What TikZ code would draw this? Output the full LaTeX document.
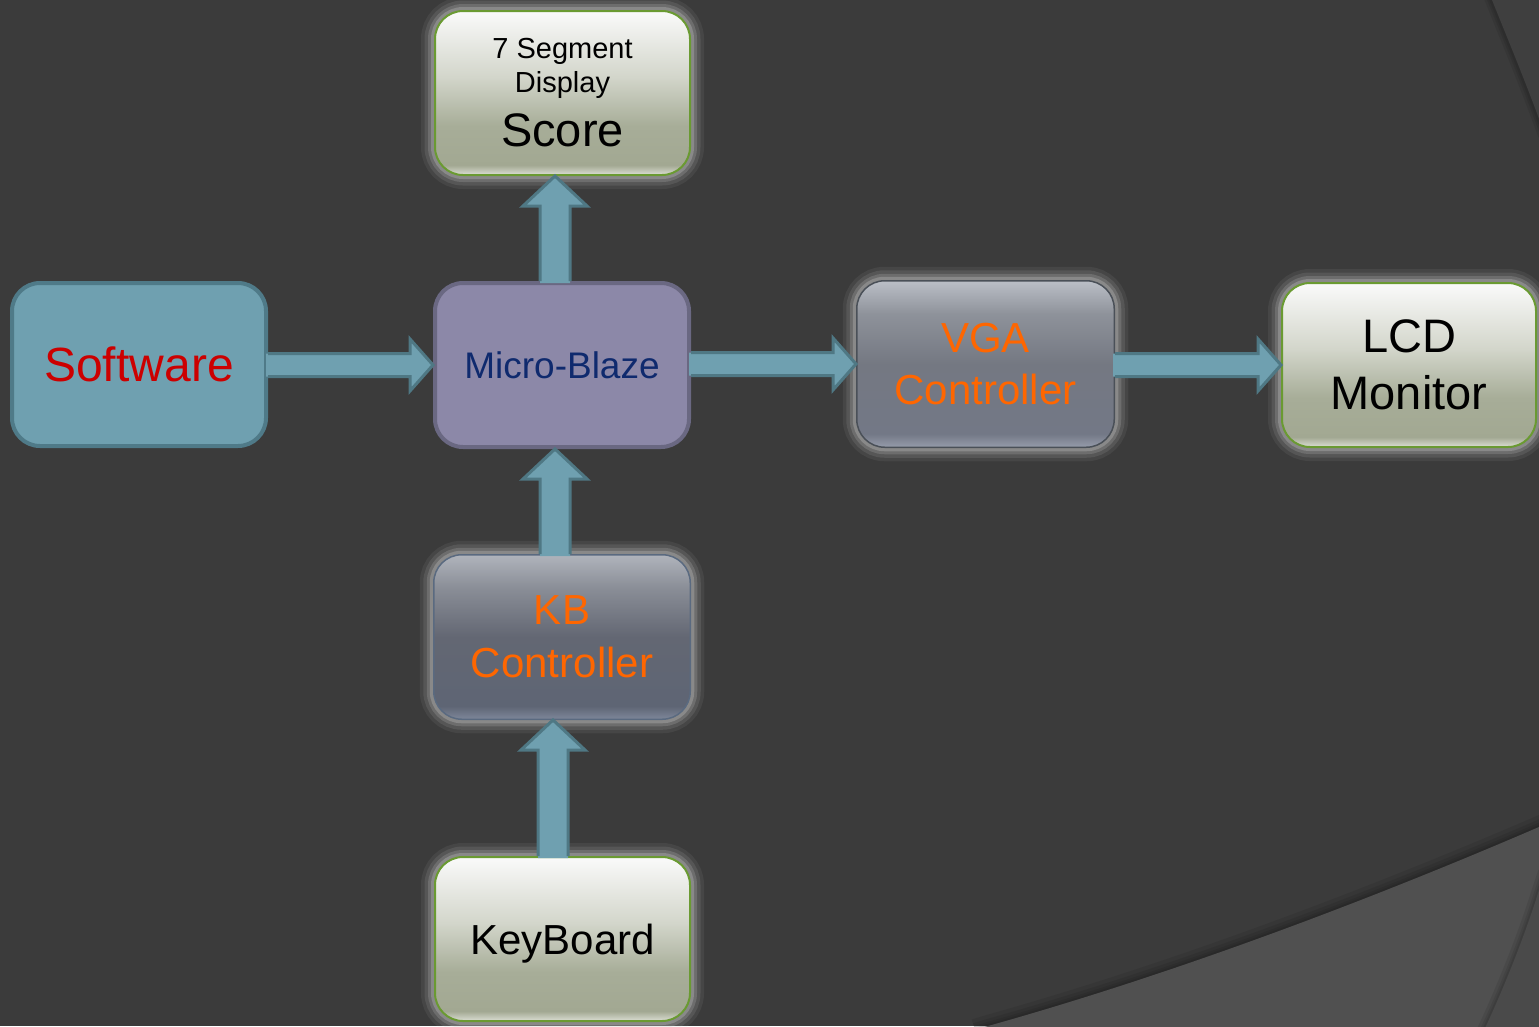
\documentclass[tikz,border=0pt]{standalone}
\usepackage{fontspec}
\setmainfont{Liberation Sans}
\usetikzlibrary{calc}
\definecolor{bgdark}{HTML}{3B3B3B}
\definecolor{bgtr}{HTML}{3F3F3F}
\definecolor{bglight}{HTML}{505050}
\definecolor{bgright}{HTML}{4A4A4A}
\definecolor{swfill}{HTML}{6FA0B0}
\definecolor{swedge}{HTML}{4F7A88}
\definecolor{mbfill}{HTML}{8C88A8}
\definecolor{mbedge}{HTML}{6A6882}
\definecolor{mbtext}{HTML}{0F2A6E}
\definecolor{arrfill}{HTML}{6FA0B0}
\definecolor{arredge}{HTML}{4F7884}
\definecolor{greenedge}{HTML}{6A9A32}
\definecolor{vgaedge}{HTML}{4A5058}
\definecolor{kbedge}{HTML}{5A6A80}
\definecolor{orangetext}{HTML}{FF6600}
\definecolor{redtext}{HTML}{CC0000}
\definecolor{glowc}{HTML}{CACACA}
% green box shading
\definecolor{gA}{HTML}{DCDFD4}
\definecolor{gB}{HTML}{A2A892}
\definecolor{gC}{HTML}{A7AD98}
\definecolor{gD}{HTML}{D3D6CB}
\definecolor{gE}{HTML}{FAFAFA}
\pgfdeclareverticalshading{greenshade}{100bp}{color(0bp)=(gA); color(25bp)=(gA); color(28bp)=(gB); color(40bp)=(gC); color(55bp)=(gD); color(75bp)=(gE); color(100bp)=(gE)}
% vga shading
\definecolor{vA}{HTML}{969CAB}
\definecolor{vB}{HTML}{737886}
\definecolor{vC}{HTML}{747882}
\definecolor{vD}{HTML}{8E929A}
\definecolor{vE}{HTML}{BBBFC7}
\pgfdeclareverticalshading{vgashade}{100bp}{color(0bp)=(vA); color(25bp)=(vA); color(29bp)=(vB); color(50bp)=(vC); color(65bp)=(vD); color(75bp)=(vE); color(100bp)=(vE)}
% kb shading
\definecolor{kA}{HTML}{7E879A}
\definecolor{kB}{HTML}{5E6574}
\definecolor{kC}{HTML}{636773}
\definecolor{kD}{HTML}{8A8E97}
\definecolor{kE}{HTML}{B0B4BC}
\pgfdeclareverticalshading{kbshade}{100bp}{color(0bp)=(kA); color(25bp)=(kA); color(29bp)=(kB); color(50bp)=(kC); color(65bp)=(kD); color(75bp)=(kE); color(100bp)=(kE)}

\tikzset{
  box/.style={rounded corners=28pt, inner sep=0pt, align=center},
  glow/.style={
    preaction={draw=glowc, line width=28pt, opacity=0.08},
    preaction={draw=glowc, line width=21pt, opacity=0.12},
    preaction={draw=glowc, line width=14pt, opacity=0.20},
    preaction={draw=glowc, line width=8pt, opacity=0.30}},
  greenbox/.style={box, glow, draw=greenedge, line width=2pt, shading=greenshade, text=black},
  grayctl/.style={box, glow, draw=vgaedge, line width=1.5pt, shading=vgashade, text=orangetext},
  kbctl/.style={box, glow, draw=kbedge, line width=1.5pt, shading=kbshade, text=orangetext},
  swbox/.style={box, draw=swedge, line width=4pt, fill=swfill, text=redtext},
  mbbox/.style={box, draw=mbedge, line width=4pt, fill=mbfill, text=mbtext},
  arrowfill/.style={fill=arrfill},
  arrowline/.style={draw=arredge, line width=3pt, line join=miter},
  shadowline/.style={draw=black, line width=#1, opacity=0.08},
}

% horizontal block arrow: from east side of #1 to west side of #2
\newcommand{\blockH}[2]{%
  \coordinate (hb) at (#1.east |- #2.west);
  \coordinate (ht) at (#2.west);
  \fill[arrowfill] ($(hb)+(-2,-11.5)$) -- ($(ht)+(-23,-11.5)$) -- ($(ht)+(-23,-26)$) -- (ht)
     -- ($(ht)+(-23,26)$) -- ($(ht)+(-23,11.5)$) -- ($(hb)+(-2,11.5)$) -- cycle;
  \draw[arrowline] ($(hb)+(0,-11.5)$) -- ($(ht)+(-23,-11.5)$) -- ($(ht)+(-23,-26)$) -- (ht)
     -- ($(ht)+(-23,26)$) -- ($(ht)+(-23,11.5)$) -- ($(hb)+(0,11.5)$);
}
% vertical block arrow: from north side of #1 up to south side of #2, x offset #3
\newcommand{\blockV}[3]{%
  \coordinate (vb) at ($(#1.north)+(#3,0)$);
  \coordinate (vt) at (vb |- #2.south);
  \fill[arrowfill] ($(vb)+(-15,2)$) -- ($(vt)+(-15,30)$) -- ($(vt)+(-32,30)$) -- (vt)
     -- ($(vt)+(32,30)$) -- ($(vt)+(15,30)$) -- ($(vb)+(15,2)$) -- cycle;
  \draw[arrowline] ($(vb)+(-15,0)$) -- ($(vt)+(-15,30)$) -- ($(vt)+(-32,30)$) -- (vt)
     -- ($(vt)+(32,30)$) -- ($(vt)+(15,30)$) -- ($(vb)+(15,0)$);
}

\begin{document}
\begin{tikzpicture}[x=1pt,y=-1pt]
\useasboundingbox (0,0) rectangle (1539,1026);
% ---------- background ----------
\fill[bgdark] (0,0) rectangle (1539,1026);
% top-right arc
\foreach \w in {14,9,5}{
  \draw[shadowline=\w pt] (1490,-5) .. controls (1508,40) and (1525,80) .. (1545,135);
}
\fill[bgtr] (1490,-5) .. controls (1508,40) and (1525,80) .. (1545,135) -- (1545,-5) -- cycle;
% bottom arc
\foreach \w in {22,14,8,4}{
  \draw[shadowline=\w pt] (975,1030) -- (988,1026) .. controls (1170,975) and (1360,904) .. (1539,827) -- (1550,822);
}
\fill[bglight] (975,1030) -- (988,1026) .. controls (1170,975) and (1360,904) .. (1539,827) -- (1550,822) -- (1550,1035) -- (975,1035) -- cycle;
% second arc in the light region
\foreach \w in {14,8,4}{
  \draw[shadowline=\w pt] (1483,1032) -- (1486,1026) .. controls (1505,985) and (1525,935) .. (1539,890) -- (1545,872);
}
\fill[bgright] (1483,1032) -- (1486,1026) .. controls (1505,985) and (1525,935) .. (1539,890) -- (1545,872) -- (1550,872) -- (1550,1032) -- cycle;

% ---------- nodes ----------
\node[swbox, minimum width=254pt, minimum height=163pt, font=\fontsize{48}{56}\selectfont]
  (sw) at (139,364.5) {Software};
\node[mbbox, minimum width=254pt, minimum height=164pt, font=\fontsize{37}{44}\selectfont]
  (mb) at (562,365) {Micro-Blaze};
\node[greenbox, minimum width=255pt, minimum height=164pt, font=\fontsize{29}{34}\selectfont]
  (seg) at (562.5,93) {7 Segment\\Display\\[14pt]\fontsize{47}{56}\selectfont Score};
\node[grayctl, minimum width=257.5pt, minimum height=166.5pt, font=\fontsize{42}{52}\selectfont]
  (vga) at (985.5,364) {VGA\\Controller};
\node[greenbox, minimum width=254pt, minimum height=164pt, font=\fontsize{47}{57}\selectfont]
  (lcd) at (1409,365) {LCD\\Monitor};
\node[kbctl, minimum width=256.5pt, minimum height=164.5pt, font=\fontsize{42}{53}\selectfont]
  (kb) at (562,637) {KB\\Controller};
\node[greenbox, minimum width=255pt, minimum height=164pt, text depth=0pt, font=\fontsize{42}{50}\selectfont]
  (key) at (562.5,939) {KeyBoard};

% ---------- block arrows ----------
\blockH{sw}{mb}
\blockH{mb}{vga}
\blockH{vga}{lcd}
\blockV{mb}{seg}{-7}
\blockV{kb}{mb}{-7}
\blockV{key}{kb}{-9.5}
\end{tikzpicture}
\end{document}
